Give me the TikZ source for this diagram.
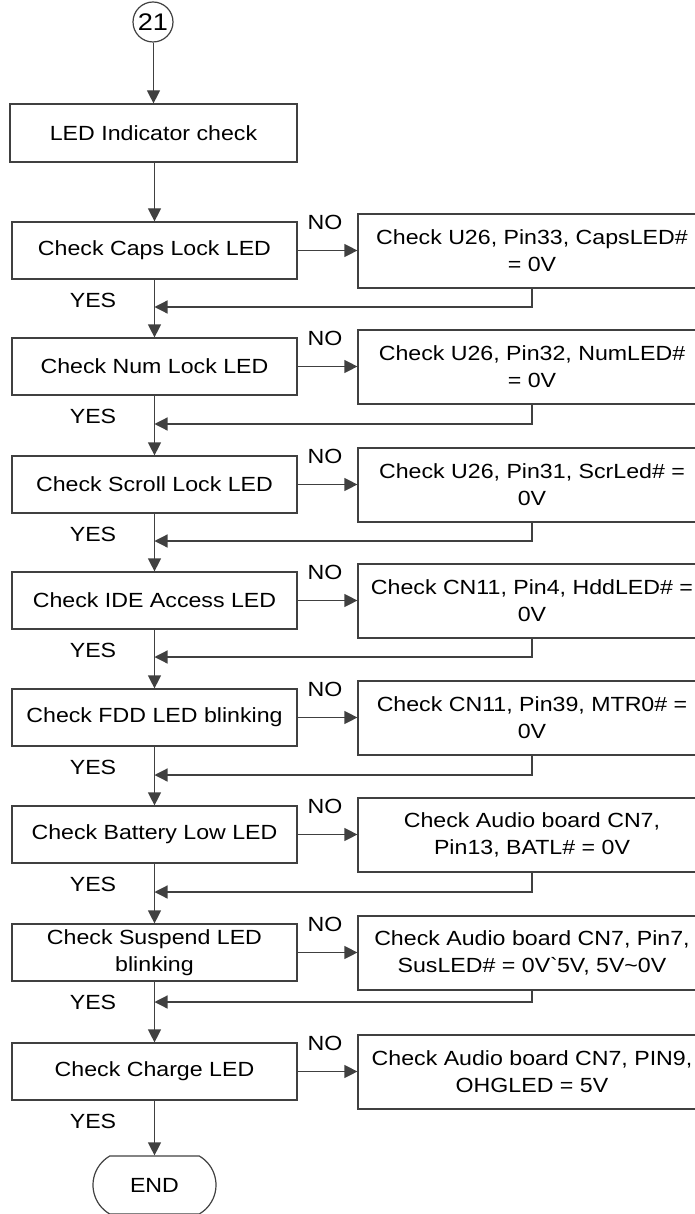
\documentclass[tikz,border=0pt]{standalone}
\usepackage{fontspec}
\setmainfont{Liberation Sans}[FakeStretch=1.13]
\usetikzlibrary{arrows.meta,shapes.misc}
\begin{document}
\begin{tikzpicture}[x=1pt,y=-1pt,
  every node/.style={font=\fontsize{20.5}{27}\selectfont, inner sep=0pt},
  linecol/.style={draw=black!75, line width=1.2pt},
  lbox/.style={linecol, rectangle, minimum width=285, minimum height=57, align=center},
  rbox/.style={linecol, rectangle, minimum width=348, minimum height=74, align=center},
  arr/.style={linecol, -{Triangle[length=13pt,width=13pt]}},
  lbl/.style={}
]
\useasboundingbox (0,0) rectangle (695,1214);

% start connector
\node[linecol, circle, minimum size=40, font=\fontsize{24}{28}\selectfont] (c21) at (153,22) {21};
\node[lbox, minimum width=287, minimum height=58] (led) at (153.5,133) {LED Indicator check};
\draw[arr] (c21.south -| led.north) -- (led.north);

% decision boxes (left column)
\node[lbox] (l1) at (154.5,250.5) {Check Caps Lock LED};
\node[lbox] (l2) at (154.5,366.5) {Check Num Lock LED};
\node[lbox] (l3) at (154.5,484.5) {Check Scroll Lock LED};
\node[lbox] (l4) at (154.5,600.5) {Check IDE Access LED};
\node[lbox] (l5) at (154.5,717.5) {Check FDD LED blinking};
\node[lbox] (l6) at (154.5,834.5) {Check Battery Low LED};
\node[lbox] (l7) at (154.5,952.5) {Check Suspend LED\\blinking};
\node[lbox] (l8) at (154.5,1071.5) {Check Charge LED};

% action boxes (right column)
\node[rbox] (r1) at (532,251) {Check U26, Pin33, CapsLED\#\\= 0V};
\node[rbox] (r2) at (532,367) {Check U26, Pin32, NumLED\#\\= 0V};
\node[rbox] (r3) at (532,485) {Check U26, Pin31, ScrLed\# =\\0V};
\node[rbox] (r4) at (532,601) {Check CN11, Pin4, HddLED\# =\\0V};
\node[rbox] (r5) at (532,718) {Check CN11, Pin39, MTR0\# =\\0V};
\node[rbox] (r6) at (532,835) {Check Audio board CN7,\\Pin13, BATL\# = 0V};
\node[rbox] (r7) at (532,953) {Check Audio board CN7, Pin7,\\SusLED\# = 0V\textasciigrave 5V, 5V\textasciitilde 0V};
\node[rbox] (r8) at (532,1072) {Check Audio board CN7, PIN9,\\OHGLED = 5V};

% end terminal
\node[linecol, rounded rectangle, rounded rectangle arc length=120, minimum width=123, minimum height=58] (end) at (154.5,1185) {END};

% main flow
\draw[arr] (led.south -| l1.north) -- (l1.north);
\foreach \a/\b in {l1/l2,l2/l3,l3/l4,l4/l5,l5/l6,l6/l7,l7/l8}{
  \draw[arr] (\a.south) -- (\b.north);
}
\draw[arr] (l8.south) -- (end.north);

% NO branches
\foreach \i in {1,...,8}{
  \draw[arr] (l\i.east) -- (l\i.east -| r\i.west);
}

% return lines
\coordinate (m1) at (154.5,307);
\coordinate (m2) at (154.5,424);
\coordinate (m3) at (154.5,541);
\coordinate (m4) at (154.5,657);
\coordinate (m5) at (154.5,775);
\coordinate (m6) at (154.5,892);
\coordinate (m7) at (154.5,1002);
\foreach \i in {1,...,7}{
  \draw[arr] (r\i.south) |- (m\i);
}

% labels
\foreach \i/\t in {1/222,2/338,3/456,4/572,5/689,6/806,7/924,8/1043}{
  \node[lbl] (no\i) at (325,\t) {NO};
  \node[lbl] (yes\i) at (93,\t+78) {YES};
}
\end{tikzpicture}
\end{document}
